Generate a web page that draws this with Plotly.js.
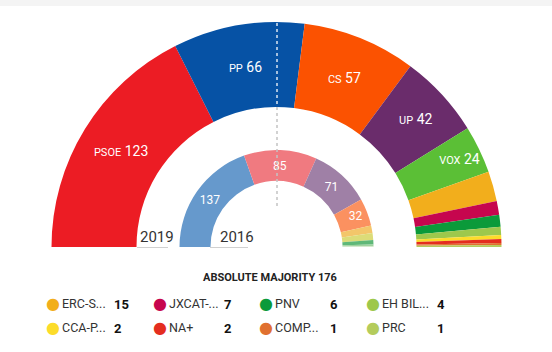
<!DOCTYPE html>
<html>
<head>
<meta charset="utf-8">
<script src="https://cdn.plot.ly/plotly-3.0.1.min.js"></script>
<style>
html,body{margin:0;padding:0;overflow:hidden;background:#fff;width:552px;height:352px;}
#chart{width:552px;height:500px;}
</style>
</head>
<body>
<div id="chart"></div>
<script>
// ---- data ----
const parties2019 = ['PSOE','PP','CS','UP','VOX','ERC-S...','JXCAT-...','PNV','EH BIL...','CCA-P...','NA+','COMP...','PRC'];
const seats2019 = [123,66,57,42,24,15,7,6,4,2,2,1,1];
const colors2019 = ['#ec1c24','#0652a5','#fb5201','#6a2c6b','#5bbf36','#f2ae1c','#c6064e','#0b9a3a','#9dc84c','#fcdc2a','#e42d1f','#e07030','#b4cc5c'];
const parties2016 = ['PP','PSOE','UP','CS','ERC','CDC','PNV','EH BILDU','CC'];
const seats2016 = [137,85,71,32,9,8,5,2,1];
const colors2016 = ['#6699cc','#f07a80','#9f80a6','#fb9160','#f3c66a','#dcdc78','#5fb878','#9fd29f','#cfe6c4'];
const totalSeats = 350;
const majority = 176;
const labeledCount2019 = 5;   // slices with inside labels
const labeledCount2016 = 4;
const legendStart = 5;        // parties from this index go to the legend

// ---- geometry helpers (pixel -> paper) ----
const W = 552, H = 500;
const cx = 276.5, cy = 247;
const px = x => x / W;
const py = y => (H - y) / H;
function domainFor(r){ return {x:[px(cx - r), px(cx + r)], y:[py(cy + r), py(cy - r)]}; }

const FONT = 'Roboto, "Liberation Sans", Arial, sans-serif';

function sliceText(names, vals, n, withName){
  return vals.map((v,i) => i < n ?
    (withName ? '<span style="font-size:11px">' + names[i] + '</span> <span style="font-size:14px">' + v + '</span>' : String(v))
    : '').concat(['']);
}

const outer = {
  type:'pie', sort:false, direction:'clockwise', rotation:-90,
  values: seats2019.concat([totalSeats]),
  labels: parties2019.concat(['__hidden19']),
  marker:{colors: colors2019.concat(['rgba(0,0,0,0)']), line:{width:0}},
  hole: 140/225,
  domain: domainFor(225),
  text: sliceText(parties2019, seats2019, labeledCount2019, true),
  textinfo:'text', textposition:'inside', insidetextorientation:'horizontal',
  textfont:{family:FONT, color:'#ffffff', size:14},
  hoverinfo:'none', showlegend:false
};
const inner = {
  type:'pie', sort:false, direction:'clockwise', rotation:-90,
  values: seats2016.concat([totalSeats]),
  labels: parties2016.concat(['__hidden16']),
  marker:{colors: colors2016.concat(['rgba(0,0,0,0)']), line:{width:0}},
  hole: 66/97,
  domain: domainFor(97),
  text: sliceText(parties2016, seats2016, labeledCount2016, false),
  textinfo:'text', textposition:'inside', insidetextorientation:'horizontal',
  textfont:{family:FONT, color:'#ffffff', size:12},
  hoverinfo:'none', showlegend:false
};

// ---- annotations ----
const annotations = [];
annotations.push({xref:'paper', yref:'paper', x:px(138), y:py(248), xanchor:'left', yanchor:'bottom',
  text:'2019', showarrow:false, font:{family:FONT, size:15, color:'#333'}});
annotations.push({xref:'paper', yref:'paper', x:px(218), y:py(248), xanchor:'left', yanchor:'bottom',
  text:'2016', showarrow:false, font:{family:FONT, size:15, color:'#333'}});
annotations.push({xref:'paper', yref:'paper', x:px(270), y:py(277), xanchor:'center', yanchor:'middle',
  text:'<b>ABSOLUTE MAJORITY ' + majority + '</b>', showarrow:false, font:{family:FONT, size:11, color:'#222'}});

const legendParties = parties2019.slice(legendStart);
const legendSeats = seats2019.slice(legendStart);
const legendColors = colors2019.slice(legendStart);
legendParties.forEach((name, i) => {
  const col = i % 4, row = Math.floor(i / 4);
  const x0 = 53 + col * 106.5;
  const y0 = 303 + row * 24;
  annotations.push({xref:'paper', yref:'paper', x:px(x0), y:py(y0), xanchor:'center', yanchor:'middle',
    text:'●', showarrow:false, font:{family:'DejaVu Sans', size:16, color:legendColors[i]}});
  annotations.push({xref:'paper', yref:'paper', x:px(x0 + 7), y:py(y0), xanchor:'left', yanchor:'middle',
    text:name, showarrow:false, font:{family:FONT, size:12.5, color:'#333'}});
  annotations.push({xref:'paper', yref:'paper', x:px(x0 + 59 + (col > 0 ? 3 : 0)), y:py(y0 + 1), xanchor:'left', yanchor:'middle',
    text:'<b>' + legendSeats[i] + '</b>', showarrow:false, font:{family:FONT, size:13, color:'#111'}});
});

// ---- shapes ----
const shapes = [
  {type:'rect', xref:'paper', yref:'paper', x0:0, x1:1, y0:py(6), y1:py(0), fillcolor:'#f4f4f4', line:{width:0}, layer:'below'},
  {type:'line', xref:'paper', yref:'paper', x0:px(277), x1:px(277), y0:py(23), y1:py(107), line:{color:'rgba(255,255,255,0.85)', width:1.5, dash:'dot'}},
  {type:'line', xref:'paper', yref:'paper', x0:px(277), x1:px(277), y0:py(107), y1:py(207), line:{color:'#c4c4c4', width:1.5, dash:'dot'}},
  {type:'line', xref:'paper', yref:'paper', x0:px(137), x1:px(168), y0:py(247.5), y1:py(247.5), line:{color:'#d0d0d0', width:1}},
  {type:'line', xref:'paper', yref:'paper', x0:px(210), x1:px(248), y0:py(247.5), y1:py(247.5), line:{color:'#d0d0d0', width:1}}
];

const layout = {
  width: W, height: H,
  margin:{l:0, r:0, t:0, b:0},
  paper_bgcolor:'#ffffff', plot_bgcolor:'#ffffff',
  showlegend:false,
  annotations: annotations,
  shapes: shapes
};

Plotly.newPlot('chart', [outer, inner], layout, {displayModeBar:false, staticPlot:true});
</script>
</body>
</html>
